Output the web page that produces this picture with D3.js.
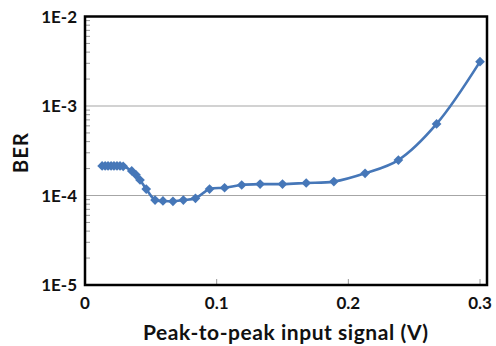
<!DOCTYPE html>
<meta charset="utf-8">
<style>
body { margin: 0; background: #fff; }
text { font-family: Lato, "Open Sans", sans-serif; font-weight: bold; fill: #111; }
</style>
<body>
<script src="https://d3js.org/d3.v7.min.js"></script>
<script>

// signal amplitude (V) and measured bit error rate
var vpp = [0.013, 0.0153, 0.0175, 0.0198, 0.022, 0.0243, 0.0266, 0.029,
           0.0355, 0.0387, 0.0418, 0.0465, 0.0532, 0.0592, 0.0668, 0.0747,
           0.0839, 0.0946, 0.106, 0.119, 0.133, 0.150, 0.168, 0.189,
           0.2127, 0.238, 0.267, 0.300];
var ber = [2.14e-4, 2.14e-4, 2.14e-4, 2.14e-4, 2.14e-4, 2.14e-4, 2.14e-4, 2.12e-4,
           1.88e-4, 1.70e-4, 1.49e-4, 1.18e-4, 8.9e-5, 8.7e-5, 8.6e-5, 8.9e-5,
           9.3e-5, 1.18e-4, 1.22e-4, 1.31e-4, 1.34e-4, 1.34e-4, 1.38e-4, 1.43e-4,
           1.77e-4, 2.49e-4, 6.3e-4, 3.13e-3];
var xTicks = [0, 0.1, 0.2, 0.3];
var yTicks = [1e-5, 1e-4, 1e-3, 1e-2];
var yLabels = ["1E-5", "1E-4", "1E-3", "1E-2"];

var W = 496, H = 346;
var margin = {top: 16.5, right: 9, bottom: 61, left: 85};
var width = W - margin.left - margin.right,
    height = H - margin.top - margin.bottom;

var x = d3.scaleLinear().domain([0, 0.3053]).range([0, width]);
var y = d3.scaleLog().domain([1e-5, 1e-2]).range([height, 0]);

var svg = d3.select("body").append("svg")
    .attr("width", W)
    .attr("height", H)
  .append("g")
    .attr("transform", "translate(" + margin.left + "," + margin.top + ")");

// gridlines
svg.selectAll(".grid")
    .data([1e-4, 1e-3])
    .enter().append("line")
    .attr("x1", 0).attr("x2", width)
    .attr("y1", function(d) { return y(d); })
    .attr("y2", function(d) { return y(d); })
    .attr("stroke", "#a6a6a6")
    .attr("stroke-width", 1.2);

// minor log ticks on the y axis (inside)
var minor = [];
[1e-5, 1e-4, 1e-3].forEach(function(dec) {
  for (var k = 2; k <= 9; k++) minor.push(dec * k);
});
svg.selectAll(".minor")
    .data(minor)
    .enter().append("line")
    .attr("x1", 0).attr("x2", 5)
    .attr("y1", function(d) { return y(d); })
    .attr("y2", function(d) { return y(d); })
    .attr("stroke", "#999")
    .attr("stroke-width", 1);

// x ticks inside
svg.selectAll(".xt")
    .data(xTicks.slice(1))
    .enter().append("line")
    .attr("x1", function(d) { return x(d); })
    .attr("x2", function(d) { return x(d); })
    .attr("y1", height).attr("y2", height - 6)
    .attr("stroke", "#999")
    .attr("stroke-width", 1);

// line + markers
var line = d3.line()
    .x(function(d, i) { return x(vpp[i]); })
    .y(function(d) { return y(d); })
    .curve(d3.curveCatmullRom.alpha(0.5));

svg.append("path")
    .datum(ber)
    .attr("fill", "none")
    .attr("stroke", "#4677b8")
    .attr("stroke-width", 2.6)
    .attr("d", line);

svg.selectAll(".pt")
    .data(ber)
    .enter().append("path")
    .attr("d", d3.symbol().type(d3.symbolDiamond2).size(60))
    .attr("transform", function(d, i) { return "translate(" + x(vpp[i]) + "," + y(d) + ")"; })
    .attr("fill", "#4677b8");

// frame
svg.append("rect")
    .attr("width", width).attr("height", height)
    .attr("fill", "none")
    .attr("stroke", "#000")
    .attr("stroke-width", 2.5);

// tick labels
svg.selectAll(".yl")
    .data(yTicks)
    .enter().append("text")
    .attr("x", -8)
    .attr("y", function(d) { return y(d); })
    .attr("dy", "0.36em")
    .attr("text-anchor", "end")
    .style("font-size", "17px")
    .text(function(d, i) { return yLabels[i]; });

svg.selectAll(".xl")
    .data(xTicks)
    .enter().append("text")
    .attr("x", function(d) { return x(d); })
    .attr("y", height + 24)
    .attr("text-anchor", "middle")
    .style("font-size", "17px")
    .text(function(d) { return d === 0 ? "0" : d3.format(".1f")(d); });

// axis titles
svg.append("text")
    .attr("x", 285.5 - margin.left)
    .attr("y", height + 55)
    .attr("text-anchor", "middle")
    .attr("textLength", 285)
    .style("font-size", "21px")
    .text("Peak-to-peak input signal (V)");

svg.append("text")
    .attr("transform", "rotate(-90)")
    .attr("x", -(153 - margin.top))
    .attr("y", 28 - margin.left)
    .attr("text-anchor", "middle")
    .attr("textLength", 40)
    .style("font-size", "20px")
    .text("BER");

</script>
</body>
